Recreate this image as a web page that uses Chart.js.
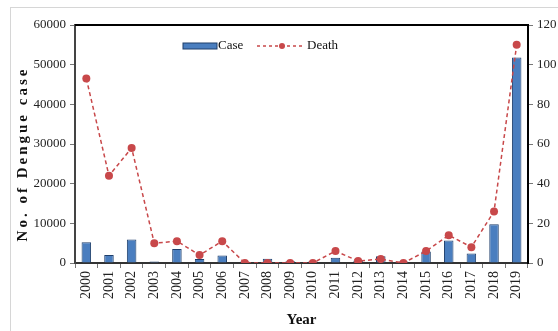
<!DOCTYPE html>
<html>
<head>
<meta charset="utf-8">
<script src="https://cdn.jsdelivr.net/npm/chart.js@4/dist/chart.umd.min.js"></script>
<style>
  html, body { margin: 0; padding: 0; background: #fff; overflow: hidden; width: 558px; height: 331px; }
  #frame { position: absolute; left: 10px; top: 7px; width: 600px; height: 400px; border: 1px solid #d6d6d6; }
  #wrap { position: absolute; left: 0; top: 0; width: 580px; height: 331px; }
</style>
</head>
<body>
<div id="frame"></div>
<div id="wrap"><canvas id="c" width="580" height="331"></canvas></div>
<script>
// Dengue cases and deaths per year
const years = ['2000','2001','2002','2003','2004','2005','2006','2007','2008','2009',
               '2010','2011','2012','2013','2014','2015','2016','2017','2018','2019'];
const cases = [5200, 2000, 5900, 400, 3500, 1000, 1900, 400, 1100, 450,
               400, 1300, 650, 1700, 350, 2900, 5700, 2400, 9800, 51800];
const deaths = [93, 44, 58, 10, 11, 4, 11, 0, 0, 0,
                0, 6, 1, 2, 0, 6, 14, 8, 26, 110];
const leftTicks = [0, 10000, 20000, 30000, 40000, 50000, 60000];
const rightTicks = [0, 20, 40, 60, 80, 100, 120];
const leftTitle = 'No. of Dengue case';
const rightTitle = 'No. of Death';
const xTitle = 'Year';

const SERIF = '"Liberation Serif", "Times New Roman", serif';
const BAR_FILL = '#4a7ebf';
const BAR_EDGE = '#1f3f6b';
const LINE_RED = '#c8484a';

// Frame on top/right of the plot, rotated axis titles and the in-plot legend
const decor = {
  id: 'decor',
  afterDraw(chart) {
    const ctx = chart.ctx;
    const a = chart.chartArea;
    ctx.save();
    // top and right border of the plot
    ctx.strokeStyle = '#000';
    ctx.lineWidth = 2;
    ctx.beginPath();
    ctx.moveTo(a.left, a.top);
    ctx.lineTo(a.right, a.top);
    ctx.lineTo(a.right, a.bottom);
    ctx.stroke();

    // rotated axis titles
    ctx.fillStyle = '#111';
    ctx.font = 'bold 15px ' + SERIF;
    ctx.textAlign = 'center';
    ctx.textBaseline = 'middle';
    const midY = (a.top + a.bottom) / 2 + 10;
    ctx.save();
    ctx.translate(23, midY);
    ctx.rotate(-Math.PI / 2);
    ctx.letterSpacing = '3px';
    ctx.fillText(leftTitle, 0, 0);
    ctx.restore();
    ctx.save();
    ctx.translate(564, midY - 8);
    ctx.rotate(-Math.PI / 2);
    ctx.letterSpacing = '3px';
    ctx.fillText(rightTitle, 0, 0);
    ctx.restore();

    // legend
    const ds = chart.data.datasets;
    const ly = a.top + 21;
    ctx.font = '13px ' + SERIF;
    ctx.textAlign = 'left';
    ctx.fillStyle = ds[0].backgroundColor;
    ctx.fillRect(a.left + 108, ly - 3, 34, 6);
    ctx.strokeStyle = ds[0].borderColor;
    ctx.lineWidth = 1;
    ctx.strokeRect(a.left + 108, ly - 3, 34, 6);
    ctx.fillStyle = '#111';
    ctx.fillText(ds[0].label, a.left + 143, ly);

    ctx.strokeStyle = ds[1].borderColor;
    ctx.lineWidth = 1.5;
    ctx.setLineDash([3, 3]);
    ctx.beginPath();
    ctx.moveTo(a.left + 182, ly);
    ctx.lineTo(a.left + 229, ly);
    ctx.stroke();
    ctx.setLineDash([]);
    ctx.fillStyle = ds[1].pointBackgroundColor;
    ctx.beginPath();
    ctx.arc(a.left + 207, ly, 3, 0, Math.PI * 2);
    ctx.fill();
    ctx.fillStyle = '#111';
    ctx.fillText(ds[1].label, a.left + 232, ly);
    ctx.restore();
  }
};

const plain = v => String(v);

new Chart(document.getElementById('c'), {
  type: 'bar',
  data: {
    labels: years,
    datasets: [
      {
        type: 'bar',
        label: 'Case',
        data: cases,
        yAxisID: 'y',
        backgroundColor: BAR_FILL,
        borderColor: BAR_EDGE,
        borderWidth: 1,
        barPercentage: 0.42,
        categoryPercentage: 1,
        order: 2
      },
      {
        type: 'line',
        label: 'Death',
        data: deaths,
        yAxisID: 'y1',
        borderColor: LINE_RED,
        borderWidth: 1.5,
        borderDash: [4, 3],
        pointRadius: 4,
        pointBackgroundColor: LINE_RED,
        pointBorderColor: LINE_RED,
        pointBorderWidth: 0,
        tension: 0,
        order: 1
      }
    ]
  },
  options: {
    responsive: false,
    animation: false,
    devicePixelRatio: 1,
    layout: { padding: { top: 25, left: 0, right: 0, bottom: 2 } },
    plugins: { legend: { display: false }, tooltip: { enabled: false } },
    scales: {
      x: {
        offset: true,
        afterFit(s) { s.height = 66; },
        grid: { display: true, drawOnChartArea: false, offset: true, tickLength: 5, color: '#777' },
        border: { color: '#333', width: 2 },
        ticks: { font: { family: SERIF, size: 14 }, color: '#222', minRotation: 90, maxRotation: 90, padding: 3, autoSkip: false },
        title: { display: true, text: xTitle, font: { family: SERIF, size: 15, weight: 'bold' }, color: '#111', padding: 0 }
      },
      y: {
        position: 'left',
        min: 0, max: 60000,
        afterFit(s) { s.width = 75; },
        afterBuildTicks(s) { s.ticks = leftTicks.map(v => ({ value: v })); },
        grid: { display: true, drawOnChartArea: false, tickLength: 5, color: '#777' },
        border: { color: '#444', width: 2 },
        ticks: { font: { family: SERIF, size: 13 }, color: '#222', padding: 4, callback: plain }
      },
      y1: {
        position: 'right',
        min: 0, max: 120,
        afterFit(s) { s.width = 52; },
        afterBuildTicks(s) { s.ticks = rightTicks.map(v => ({ value: v })); },
        grid: { display: true, drawOnChartArea: false, tickLength: 5, color: '#777' },
        border: { color: '#000', width: 2 },
        ticks: { font: { family: SERIF, size: 13 }, color: '#222', padding: 4, callback: plain }
      }
    }
  },
  plugins: [decor]
});
</script>
</body>
</html>
